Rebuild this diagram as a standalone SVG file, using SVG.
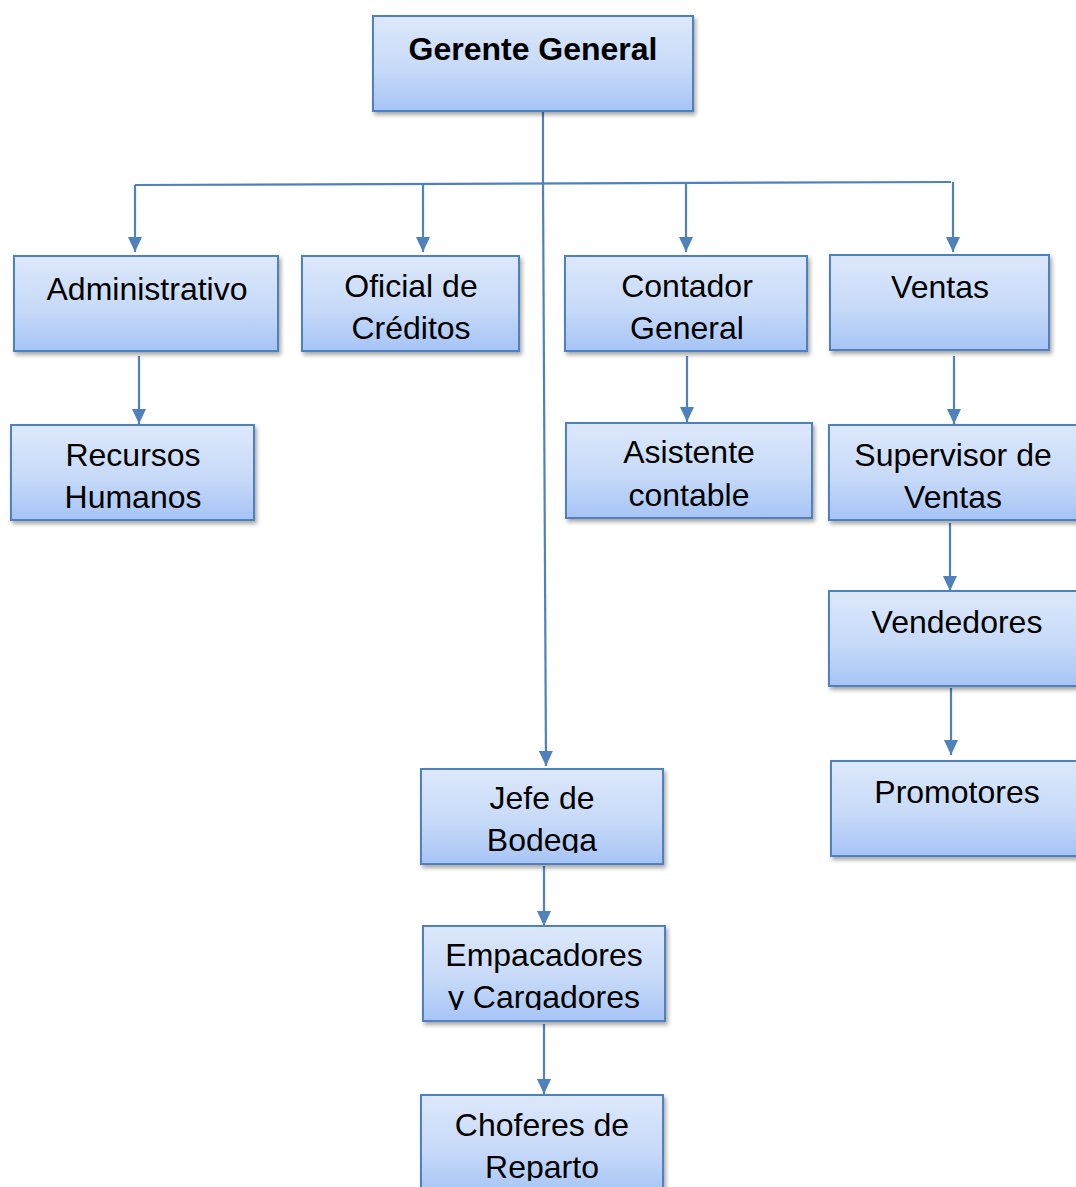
<svg xmlns="http://www.w3.org/2000/svg" width="1076" height="1187" viewBox="0 0 1076 1187">
  <style>
    .box { fill: url(#boxFill); stroke: #4f81bd; stroke-width: 2; filter: url(#shadow); }
    .lbl { font-family: "Liberation Sans", Arial, sans-serif; font-size: 32px; fill: #000; text-anchor: middle; }
    .bold { font-weight: bold; }
    .wire { fill: none; stroke: #4f81bd; stroke-width: 2.2; }
    .arrow { fill: none; stroke: #4f81bd; stroke-width: 2.2; marker-end: url(#head); }
  </style>
  <defs>
    <linearGradient id="boxFill" x1="0" y1="0" x2="0" y2="1">
      <stop offset="0" stop-color="#dde8fb"/>
      <stop offset="0.55" stop-color="#c7daf8"/>
      <stop offset="1" stop-color="#a6c4f6"/>
    </linearGradient>
    <filter id="shadow" x="-10%" y="-10%" width="125%" height="130%">
      <feGaussianBlur in="SourceAlpha" stdDeviation="2"/>
      <feOffset dx="2" dy="3" result="b"/>
      <feComponentTransfer><feFuncA type="linear" slope="0.35"/></feComponentTransfer>
      <feMerge><feMergeNode/><feMergeNode in="SourceGraphic"/></feMerge>
    </filter>
    <!-- filled triangular head, tip at the line end -->
    <marker id="head" markerUnits="userSpaceOnUse" markerWidth="15" markerHeight="14" refX="15" refY="7" orient="auto" viewBox="0 0 15 14">
      <path d="M0,0 L15,7 L0,14 Z" fill="#4f81bd"/>
    </marker>
    <clipPath id="clipJefe"><rect x="421" y="769" width="242" height="84"/></clipPath>
    <clipPath id="clipEmp"><rect x="423" y="926" width="242" height="84"/></clipPath>
    <clipPath id="clipChof"><rect x="421" y="1095" width="242" height="86"/></clipPath>
  </defs>

  <rect width="1076" height="1187" fill="#fff"/>

  <!-- connectors -->
  <g id="connectors">
    <line class="wire" x1="543" y1="111" x2="543" y2="183"/>
    <line class="arrow" x1="543" y1="183" x2="546" y2="766"/>
    <line class="wire" x1="135" y1="185" x2="951" y2="182"/>
    <line class="arrow" x1="135" y1="185" x2="135" y2="252"/>
    <line class="arrow" x1="423" y1="184" x2="423" y2="252"/>
    <line class="arrow" x1="686" y1="183" x2="686" y2="252"/>
    <line class="arrow" x1="953" y1="182" x2="953" y2="252"/>
    <line class="arrow" x1="139" y1="356" x2="139" y2="424"/>
    <line class="arrow" x1="687" y1="356" x2="687" y2="422"/>
    <line class="arrow" x1="954" y1="356" x2="954" y2="424"/>
    <line class="arrow" x1="950" y1="523" x2="950" y2="591"/>
    <line class="arrow" x1="951" y1="688" x2="951" y2="755"/>
    <line class="arrow" x1="544" y1="866" x2="544" y2="926"/>
    <line class="arrow" x1="544" y1="1024" x2="544" y2="1094"/>
  </g>

  <g id="gerente">
    <rect class="box" x="373" y="16" width="320" height="95"/>
    <text class="lbl bold" x="533" y="60">Gerente General</text>
  </g>
  <g id="administrativo">
    <rect class="box" x="14" y="256" width="264" height="95"/>
    <text class="lbl" x="147" y="300">Administrativo</text>
  </g>
  <g id="oficial">
    <rect class="box" x="302" y="256" width="217" height="95"/>
    <text class="lbl" x="411" y="297">Oficial de</text>
    <text class="lbl" x="411" y="339">Créditos</text>
  </g>
  <g id="contador">
    <rect class="box" x="565" y="256" width="242" height="95"/>
    <text class="lbl" x="687" y="297">Contador</text>
    <text class="lbl" x="687" y="339">General</text>
  </g>
  <g id="ventas">
    <rect class="box" x="830" y="255" width="219" height="95"/>
    <text class="lbl" x="940" y="298">Ventas</text>
  </g>
  <g id="recursos">
    <rect class="box" x="11" y="425" width="243" height="95"/>
    <text class="lbl" x="133" y="466">Recursos</text>
    <text class="lbl" x="133" y="508">Humanos</text>
  </g>
  <g id="asistente">
    <rect class="box" x="566" y="423" width="246" height="95"/>
    <text class="lbl" x="689" y="463">Asistente</text>
    <text class="lbl" x="689" y="506">contable</text>
  </g>
  <g id="supervisor">
    <rect class="box" x="829" y="425" width="260" height="95"/>
    <text class="lbl" x="953" y="466">Supervisor de</text>
    <text class="lbl" x="953" y="508">Ventas</text>
  </g>
  <g id="vendedores">
    <rect class="box" x="829" y="591" width="260" height="95"/>
    <text class="lbl" x="957" y="633">Vendedores</text>
  </g>
  <g id="promotores">
    <rect class="box" x="831" y="761" width="260" height="95"/>
    <text class="lbl" x="957" y="803">Promotores</text>
  </g>
  <g id="jefe">
    <rect class="box" x="421" y="769" width="242" height="95"/>
    <g clip-path="url(#clipJefe)">
      <text class="lbl" x="542" y="809">Jefe de</text>
      <text class="lbl" x="542" y="851">Bodega</text>
    </g>
  </g>
  <g id="empacadores">
    <rect class="box" x="423" y="926" width="242" height="95"/>
    <g clip-path="url(#clipEmp)">
      <text class="lbl" x="544" y="966">Empacadores</text>
      <text class="lbl" x="544" y="1008">y Cargadores</text>
    </g>
  </g>
  <g id="choferes">
    <rect class="box" x="421" y="1095" width="242" height="100"/>
    <g clip-path="url(#clipChof)">
      <text class="lbl" x="542" y="1136">Choferes de</text>
      <text class="lbl" x="542" y="1178">Reparto</text>
    </g>
  </g>
</svg>
